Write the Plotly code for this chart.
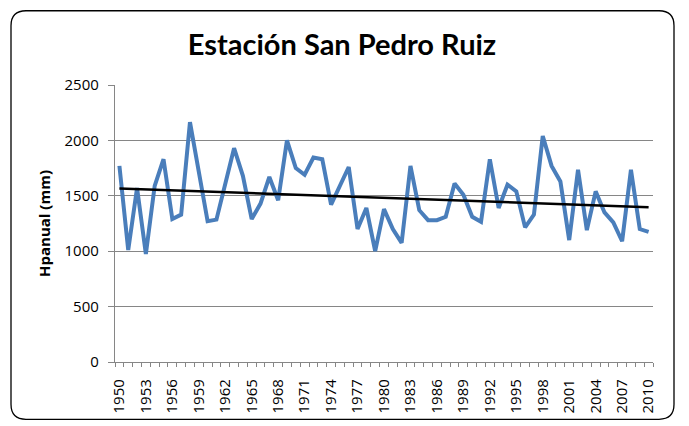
import numpy as np
import plotly.graph_objects as go

years = list(range(1950, 2011))
hpanual = [1770, 1010, 1570, 975, 1590, 1830, 1290, 1330, 2165, 1700,
           1270, 1285, 1600, 1930, 1680, 1290, 1430, 1670, 1460, 2000,
           1750, 1690, 1845, 1830, 1420, 1590, 1760, 1200, 1390, 1000,
           1380, 1200, 1075, 1770, 1370, 1280, 1280, 1310, 1610, 1510,
           1310, 1265, 1830, 1390, 1600, 1540, 1215, 1330, 2040, 1770,
           1630, 1100, 1735, 1190, 1540, 1350, 1260, 1090, 1735, 1200,
           1175]
tick_years = list(range(1950, 2011, 3))
title_text = "Estación San Pedro Ruiz"
y_title = "Hpanual (mm)"

slope, intercept = np.polyfit(years, hpanual, 1)
trend = [slope * y + intercept for y in years]

W, H = 689, 426
ML, MR, MT, MB = 115, 36, 84.5, 63.5
pw, ph = W - ML - MR, H - MT - MB

def px(x):
    return (x - ML) / pw

def py(y):
    return 1 - (y - MT) / ph

fig = go.Figure()
fig.add_trace(go.Scatter(x=years, y=hpanual, mode="lines",
                         line=dict(color="#4A7EBB", width=4), showlegend=False,
                         hoverinfo="skip"))
fig.add_trace(go.Scatter(x=years, y=trend, mode="lines",
                         line=dict(color="#000000", width=2.5), showlegend=False,
                         hoverinfo="skip"))

# rounded border
x0, y0, x1, y1, r = 11, 10, 674, 420, 15
path = (f"M {px(x0+r)},{py(y0)} L {px(x1-r)},{py(y0)} Q {px(x1)},{py(y0)} {px(x1)},{py(y0+r)} "
        f"L {px(x1)},{py(y1-r)} Q {px(x1)},{py(y1)} {px(x1-r)},{py(y1)} "
        f"L {px(x0+r)},{py(y1)} Q {px(x0)},{py(y1)} {px(x0)},{py(y1-r)} "
        f"L {px(x0)},{py(y0+r)} Q {px(x0)},{py(y0)} {px(x0+r)},{py(y0)} Z")
fig.add_shape(type="path", path=path, xref="paper", yref="paper",
              line=dict(color="#000000", width=1.3), layer="below")

fig.update_layout(
    width=W, height=H, autosize=False,
    margin=dict(l=ML, r=MR, t=MT, b=MB),
    paper_bgcolor="white", plot_bgcolor="white",
    title=dict(text=f"<b>{title_text}</b>", x=342 / W, xanchor="center",
               y=1 - 45 / H, yanchor="middle",
               font=dict(family="Lato", size=29, color="#000000")),
    font=dict(family="Open Sans", size=15, color="#000000"),
)
fig.update_xaxes(
    range=[1949.5, 2010.5], tickmode="array", tickvals=tick_years,
    ticktext=[str(t) for t in tick_years], tickangle=-90,
    ticks="", ticklabelstandoff=10,
    showline=True, linecolor="#868686", linewidth=1.3,
    showgrid=False, zeroline=False,
    tickfont=dict(family="Open Sans", size=15, color="#000000"),
    minor=dict(tickmode="linear", tick0=1949.5, dtick=1, ticks="outside",
               ticklen=4, tickcolor="#868686", tickwidth=1, showgrid=False),
)
fig.update_yaxes(
    range=[0, 2500], tickmode="linear", tick0=0, dtick=500,
    ticks="outside", ticklen=6, tickcolor="#868686", tickwidth=1,
    showline=True, linecolor="#868686", linewidth=1.3,
    showgrid=True, gridcolor="#868686", gridwidth=1, zeroline=False,
    tickfont=dict(family="Open Sans", size=15, color="#000000"),
    ticklabelstandoff=6,
    title=dict(text=f"<b>{y_title}</b>", standoff=10,
               font=dict(family="Open Sans", size=15, color="#000000")),
)

fig.write_html("out.html", config={"displayModeBar": False},
               post_script="document.body.style.margin='0';document.body.style.padding='0';")
